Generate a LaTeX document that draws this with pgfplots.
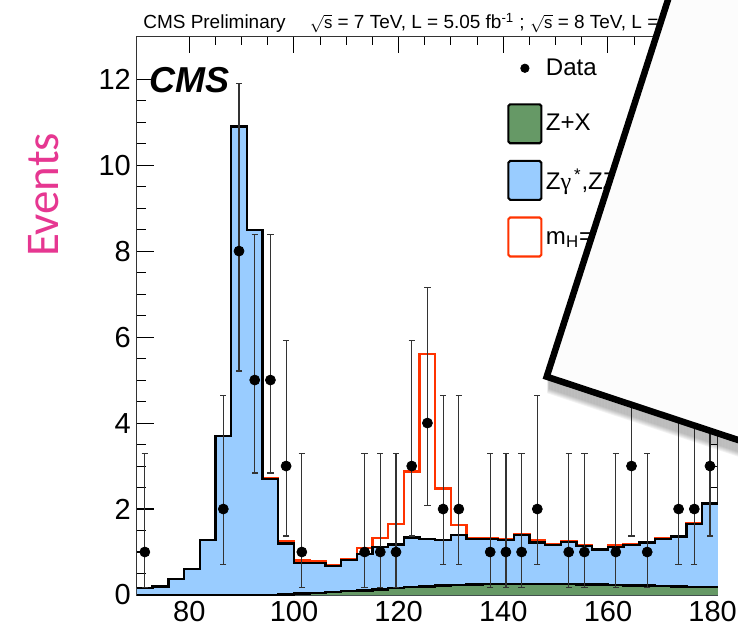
\documentclass[border=0pt]{standalone}
\usepackage{fontspec}
\setmainfont{Liberation Sans}
\newfontfamily\calibri{Carlito}
\newfontfamily\timesf{Liberation Serif}
\usepackage{graphicx}
\usepackage{pgfplots}
\usepackage{pgfplotstable}
\pgfplotsset{compat=1.18}
\definecolor{zzblue}{RGB}{153,204,255}
\definecolor{zxgreen}{RGB}{102,153,102}
\definecolor{hred}{RGB}{255,51,0}
\definecolor{evpink}{RGB}{230,55,145}
\newcommand\rs{\scalebox{0.88}{\(\sqrt{\mbox{s}}\)}}

\pgfplotstableread{
left zx zz sig
70 0 0.16 0.16
73 0 0.20 0.20
76 0 0.37 0.37
79 0 0.60 0.60
82 0 1.28 1.28
85 0 3.70 3.70
88 0 10.90 10.90
91 0 8.49 8.49
94 0.005 2.70 2.72
97 0.01 1.20 1.24
100 0.03 0.74 0.80
103 0.05 0.74 0.78
106 0.07 0.67 0.70
109 0.09 0.81 0.84
112 0.11 0.95 1.09
115 0.13 1.12 1.33
118 0.16 1.17 1.65
121 0.18 1.34 2.87
124 0.20 1.30 5.61
127 0.22 1.28 2.48
130 0.23 1.40 1.63
133 0.24 1.30 1.33
136 0.25 1.30 1.32
139 0.26 1.28 1.29
142 0.26 1.40 1.41
145 0.26 1.22 1.27
148 0.26 1.16 1.17
151 0.25 1.23 1.24
154 0.24 1.14 1.15
157 0.24 1.06 1.07
160 0.23 1.12 1.16
163 0.22 1.16 1.17
166 0.22 1.22 1.23
169 0.21 1.30 1.31
172 0.20 1.36 1.37
175 0.19 1.65 1.66
178 0.19 2.13 2.14
181 0.19 2.13 2.14
}\hist

\pgfplotstableread{
x y ep em
71.5 1 2.30 0.83
86.5 2 2.64 1.29
89.5 8 3.90 2.79
92.5 5 3.38 2.16
95.5 5 3.38 2.16
98.5 3 2.92 1.63
101.5 1 2.30 0.83
113.5 1 2.30 0.83
116.5 1 2.30 0.83
119.5 1 2.30 0.83
122.5 3 2.92 1.63
125.5 4 3.16 1.91
128.5 2 2.64 1.29
131.5 2 2.64 1.29
137.5 1 2.30 0.83
140.5 1 2.30 0.83
143.5 1 2.30 0.83
146.5 2 2.64 1.29
152.5 1 2.30 0.83
155.5 1 2.30 0.83
161.5 1 2.30 0.83
164.5 3 2.92 1.63
167.5 1 2.30 0.83
173.5 2 2.64 1.29
176.5 2 2.64 1.29
179.5 3 2.92 1.63
}\data

\begin{document}
\begin{tikzpicture}[x=0.02cm,y=0.02cm]
\begin{axis}[
  at={(2.74cm,0.68cm)}, anchor=south west, scale only axis,
  width=11.62cm, height=11.18cm,
  xmin=70, xmax=181, ymin=0, ymax=13,
  xtick={80,100,...,180}, ytick={0,2,...,12},
  minor x tick num=3, minor y tick num=3,
  tick align=inside, major tick length=0.34cm, minor tick length=0.18cm,
  tick style={black, line width=0.6pt},
  axis line style={line width=0.6pt, black!80},
  ticklabel style={font=\fontsize{16.5}{16.5}\selectfont},
  /pgf/number format/assume math mode=true,
  ylabel={Events},
  ylabel style={at={(axis description cs:-0.160,0.716)}, anchor=center,
    font=\calibri\fontsize{26.7}{27}\selectfont, color=evpink},
  legend style={draw=none, fill=none, at={(axis description cs:0.637,0.978)},
    anchor=north west, font=\fontsize{13.7}{14}\selectfont, row sep=0.31cm,
    inner sep=0pt},
  legend cell align=left,
]
\addlegendimage{legend image code/.code={\path[draw=none, fill=none] (0cm,-0.39cm) rectangle (0.66cm,0.39cm); \fill[black] (0.33cm,0cm) circle (2.4pt);}}
\addlegendentry{Data}
\addlegendimage{legend image code/.code={\draw[fill=zxgreen, line width=1.2pt, rounded corners=1pt] (0cm,-0.39cm) rectangle (0.66cm,0.39cm);}}
\addlegendentry{Z+X}
\addlegendimage{legend image code/.code={\draw[fill=zzblue, line width=1.2pt, rounded corners=1pt] (0cm,-0.39cm) rectangle (0.66cm,0.39cm);}}
\addlegendentry{Z{\timesf γ}\textsuperscript{\,*},ZZ}
\addlegendimage{legend image code/.code={\draw[draw=hred, fill=white, line width=1.2pt, rounded corners=1pt] (0cm,-0.39cm) rectangle (0.66cm,0.39cm);}}
\addlegendentry{m\textsubscript{H}=126 GeV}

\addplot[const plot, draw=hred, line width=1.4pt, forget plot] table[x=left,y=sig]{\hist};
\addplot[const plot, fill=zzblue, draw=none, forget plot] table[x=left,y=zz]{\hist} \closedcycle;
\addplot[const plot, fill=zxgreen, draw=none, forget plot] table[x=left,y=zx]{\hist} \closedcycle;
\addplot[const plot, draw=black, line width=1.4pt, forget plot] table[x=left,y=zz]{\hist};
\addplot[const plot, draw=black, line width=1.4pt, forget plot] table[x=left,y=zx]{\hist};
\addplot[only marks, mark=*, mark size=2.85pt, black, forget plot,
  error bars/.cd, y dir=both, y explicit, error mark=|,
  error bar style={line width=0.7pt, black!80},
  error mark options={line width=0.7pt, mark size=1.8pt, black!80}]
  table[x=x, y=y, y error plus=ep, y error minus=em]{\data};
\end{axis}

\node[anchor=base west, inner sep=0pt, font=\fontsize{10.8}{11}\selectfont] at (143,600)
  {CMS Preliminary \quad \rs{} = 7 TeV, L = 5.05 fb\textsuperscript{-1} ; \rs{} = 8 TeV, L = 5.26 fb\textsuperscript{-1}};
\node[anchor=base west, inner sep=0pt, font=\fontsize{20.5}{21}\selectfont\bfseries\itshape] at (149,536) {CMS};

\begin{scope}
  \clip (0,0) rectangle (738,629);
  \foreach \d in {2,3,...,14} {
    \draw[line width=3pt, black, opacity=0.05] (548,{252.3-\d}) -- (800,{168.5-\d});
  }
  \fill[white!99!black] (684,679) -- (546.7,252.3) -- (800,168.5) -- (800,679) -- cycle;
  \draw[line width=3.7pt, line join=miter] (684,679) -- (546.7,252.3) -- (800,168.5);
\end{scope}
\pgfresetboundingbox
\useasboundingbox (0,0) rectangle (738,629);
\end{tikzpicture}
\end{document}
